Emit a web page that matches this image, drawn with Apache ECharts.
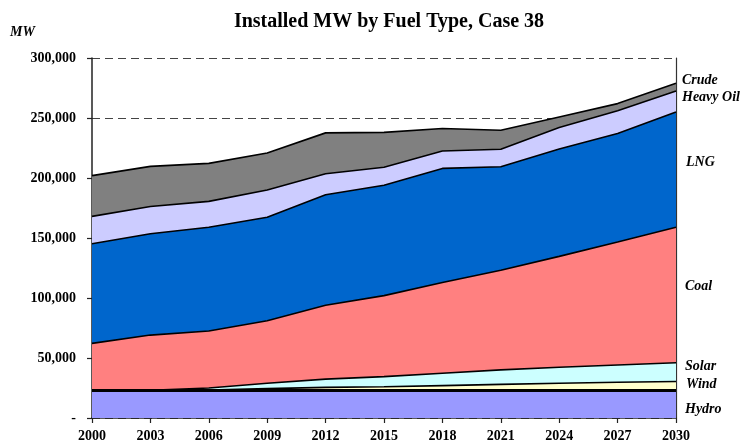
<!DOCTYPE html>
<html>
<head>
<meta charset="utf-8">
<title>Installed MW by Fuel Type, Case 38</title>
<script src="https://cdn.jsdelivr.net/npm/echarts@6/dist/echarts.min.js"></script>
<style>
    html, body { margin: 0; padding: 0; background: #fff; }
    #chart { width: 747px; height: 448px; }
</style>
</head>
<body>
<div id="chart"></div>
<script>
// years on the x axis
var years = ['2000', '2003', '2006', '2009', '2012', '2015', '2018', '2021', '2024', '2027', '2030']

// installed MW per fuel, stacked bottom to top
var hydro    = [23000, 23000, 23000, 23000, 23000, 23000, 23000, 23000, 23000, 23000, 23000]
var wind     = [0, 0, 300, 1500, 2500, 3000, 4000, 5000, 6000, 6800, 7400]
var solar    = [0, 0, 1700, 4500, 6900, 8500, 10300, 12100, 13300, 14400, 15700]
var coal     = [39200, 46100, 47500, 52000, 61600, 67500, 75600, 83000, 92400, 102400, 112900]
var lng      = [83000, 84400, 86500, 86300, 92000, 92000, 95100, 86300, 89400, 90400, 96000]
var heavyOil = [22800, 22700, 21500, 22700, 17500, 15000, 14500, 14600, 17900, 19000, 17500]
var crude    = [34000, 33500, 31700, 30800, 34100, 29000, 18700, 15800, 8900, 6000, 6500]

var fuelNames  = ['Hydro', 'Wind', 'Solar', 'Coal', 'LNG', 'Heavy Oil', 'Crude']
var fuelData   = [hydro, wind, solar, coal, lng, heavyOil, crude]
var fuelColors = ['#9999ff', '#ffffcc', '#ccffff', '#ff8080', '#0066cc', '#ccccff', '#808080']

// y ticks
var yMin = 0
var yMax = 300000
var yStep = 50000

var serif = '"Liberation Serif", "Times New Roman", serif'

var myChart = echarts.init(document.getElementById('chart'), null, { renderer: 'canvas' })

var series = fuelData.map(function(d, i) {
    return {
        name: fuelNames[i],
        type: 'line',
        stack: 'mw',
        data: d,
        symbol: 'none',
        // lower layers draw on top so every outline stays visible
        z: 20 - i,
        lineStyle: { color: '#000', width: i == 0 ? 3 : 1.6 },
        areaStyle: { color: fuelColors[i], opacity: 1 },
        itemStyle: { color: fuelColors[i] },
        emphasis: { disabled: true }
    }
})

// right hand labels, placed beside the end of each band
var labelY = { 'Crude': 81, 'Heavy Oil': 98, 'LNG': 163, 'Coal': 287, 'Solar': 367, 'Wind': 385, 'Hydro': 410 }
var labelX = { 'Crude': 682, 'Heavy Oil': 682, 'LNG': 686, 'Coal': 685, 'Solar': 685, 'Wind': 686, 'Hydro': 685 }
var labels = fuelNames.map(function(n) {
    return {
        type: 'text',
        left: labelX[n],
        top: labelY[n] - 8,
        style: {
            text: n,
            fill: '#000',
            font: 'italic bold 14px ' + serif
        }
    }
})
labels.push({
    type: 'text',
    left: 10,
    top: 25,
    style: { text: 'MW', fill: '#000', font: 'italic bold 14px ' + serif }
})

var option = {
    animation: false,
    backgroundColor: '#fff',
    title: {
        text: 'Installed MW by Fuel Type, Case 38',
        left: 384,
        textAlign: 'center',
        top: 7,
        textStyle: { fontFamily: serif, fontSize: 20, fontWeight: 'bold', color: '#000' }
    },
    grid: { left: 92, right: 71, top: 58, bottom: 30 },
    tooltip: { show: false },
    xAxis: {
        type: 'category',
        data: years,
        boundaryGap: false,
        axisLine: { lineStyle: { color: '#222', width: 1.5 } },
        axisTick: { show: true, length: 5, lineStyle: { color: '#222', width: 1.2 } },
        axisLabel: { margin: 11, color: '#000', fontFamily: serif, fontSize: 14, fontWeight: 'bold' },
        splitLine: { show: false }
    },
    yAxis: [
        {
            type: 'value',
            min: yMin,
            max: yMax,
            interval: yStep,
            axisLine: { show: true, lineStyle: { color: '#222', width: 1.5 } },
            axisTick: { show: true, length: 5, lineStyle: { color: '#222', width: 1.2 } },
            axisLabel: {
                margin: 16,
                color: '#000',
                fontFamily: serif,
                fontSize: 14,
                fontWeight: 'bold',
                formatter: function(v) { return v == 0 ? '-' : v.toLocaleString('en-US') }
            },
            splitLine: { show: true, lineStyle: { color: '#444', width: 1, type: [8, 5] } }
        },
        {
            type: 'value',
            min: yMin,
            max: yMax,
            interval: yStep,
            position: 'right',
            axisLine: { show: true, lineStyle: { color: '#333', width: 1.2 } },
            axisTick: { show: false },
            axisLabel: { show: false },
            splitLine: { show: false }
        }
    ],
    graphic: labels,
    series: series
}

myChart.setOption(option)
</script>
</body>
</html>
